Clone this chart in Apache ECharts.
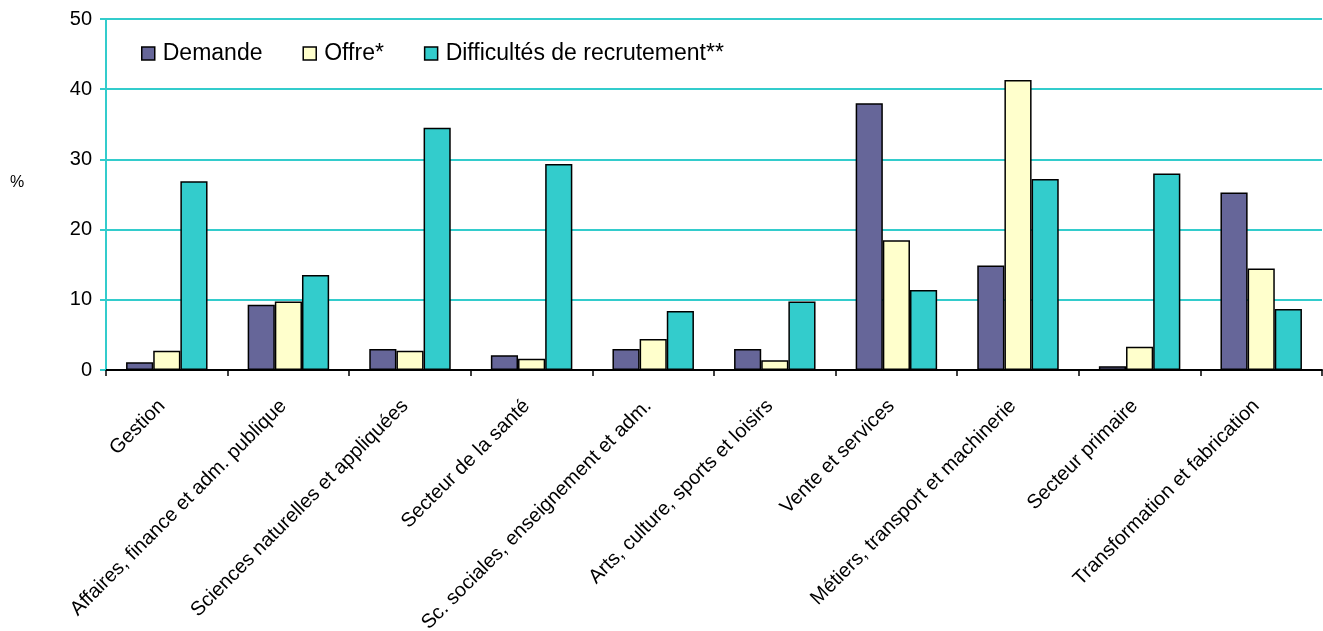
<!DOCTYPE html>
<html>
<head>
<meta charset="utf-8">
<script src="https://cdn.jsdelivr.net/npm/echarts@6/dist/echarts.min.js"></script>
<style>
  html, body { margin: 0; padding: 0; background: #fff; }
  #main { width: 1323px; height: 631px; }
</style>
</head>
<body>
<div id="main"></div>
<script>
var categories = ['Gestion', 'Affaires, finance et adm. publique', 'Sciences naturelles et appliquées',
  'Secteur de la santé', 'Sc. sociales, enseignement et adm.', 'Arts, culture, sports et loisirs',
  'Vente et services', 'Métiers, transport et machinerie', 'Secteur primaire', 'Transformation et fabrication']
var demande = [1.1, 9.3, 3.0, 2.1, 3.0, 3.0, 38.0, 14.9, 0.55, 25.3]
var offre = [2.75, 9.75, 2.75, 1.6, 4.4, 1.4, 18.5, 41.3, 3.3, 14.45]
var difficultes = [26.9, 13.55, 34.5, 29.35, 8.4, 9.75, 11.4, 27.2, 28.0, 8.7]
var yTicks = { min: 0, max: 50, interval: 10 }

var font = '"Liberation Sans", Arial, sans-serif'
var myChart = echarts.init(document.getElementById('main'))

function barSeries(name, data, color) {
  return {
    name: name,
    type: 'bar',
    data: data,
    barGap: '0%',
    barCategoryGap: '33%',
    itemStyle: { color: color, borderColor: '#000', borderWidth: 1.5 },
    emphasis: { disabled: true }
  }
}

var option = {
  animation: false,
  textStyle: { fontFamily: font },
  grid: { left: 106, right: 1, top: 19, bottom: 261, outerBoundsMode: 'none' },
  legend: {
    left: 136,
    top: 37,
    itemWidth: 13,
    itemHeight: 13,
    itemGap: 40,
    icon: 'rect',
    itemStyle: { borderColor: '#000', borderWidth: 1.5 },
    textStyle: { fontFamily: font, fontSize: 23, color: '#000', padding: [0, 0, 0, 3] },
    data: ['Demande', 'Offre*', 'Difficultés de recrutement**']
  },
  graphic: [{
    type: 'text',
    left: 10,
    top: 175,
    style: { text: '%', font: '16px ' + font, fill: '#000' }
  }],
  xAxis: {
    type: 'category',
    data: categories,
    axisLine: { lineStyle: { color: '#000', width: 2 } },
    axisTick: { show: true, length: 6, lineStyle: { color: '#000', width: 1.5 } },
    axisLabel: { rotate: 45, interval: 0, fontSize: 20, color: '#000', fontFamily: font, margin: 28, padding: [0, 7, 0, 0] }
  },
  yAxis: {
    type: 'value',
    min: yTicks.min,
    max: yTicks.max,
    interval: yTicks.interval,
    axisLine: { show: true, lineStyle: { color: '#33CCCC', width: 2 } },
    axisTick: { show: true, length: 6, lineStyle: { color: '#33CCCC', width: 2 } },
    splitLine: { lineStyle: { color: '#33CCCC', width: 2 } },
    axisLabel: { fontSize: 20, color: '#000', fontFamily: font, margin: 14 }
  },
  series: [
    barSeries('Demande', demande, '#666699'),
    barSeries('Offre*', offre, '#FFFFCC'),
    barSeries('Difficultés de recrutement**', difficultes, '#33CCCC')
  ]
}
myChart.setOption(option)
</script>
</body>
</html>
